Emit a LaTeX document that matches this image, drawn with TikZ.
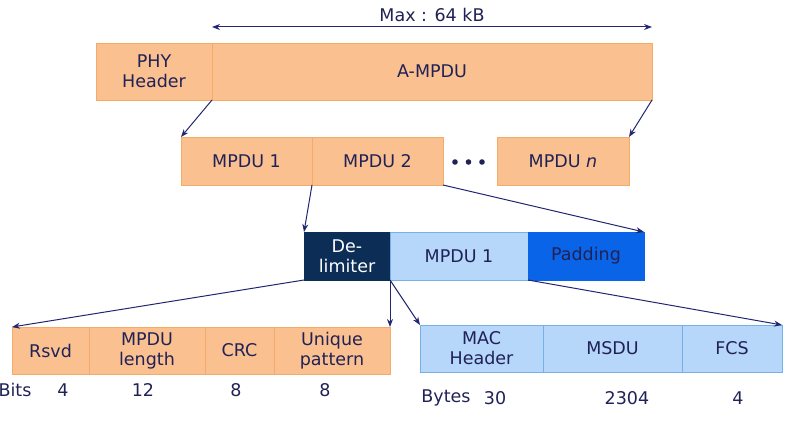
\documentclass[tikz,border=0pt]{standalone}
\usepackage{fontspec}
\setmainfont{DejaVu Sans}
\usetikzlibrary{positioning,arrows.meta}
\definecolor{orfill}{RGB}{250,192,144}
\definecolor{ordraw}{RGB}{242,172,104}
\definecolor{bluefill}{RGB}{182,214,250}
\definecolor{bluedraw}{RGB}{118,176,234}
\definecolor{delimfill}{RGB}{12,45,86}
\definecolor{padfill}{RGB}{10,100,232}
\definecolor{txt}{RGB}{32,34,86}
\definecolor{arrowcol}{RGB}{34,38,112}
\tikzset{
  field/.style={rectangle,outer sep=0pt,inner sep=0pt,align=center,text=txt,
    font=\fontsize{17.5}{20}\selectfont},
  orbox/.style={field,draw=ordraw,fill=orfill},
  bluebox/.style={field,draw=bluedraw,fill=bluefill},
  size/.style={text=txt,font=\fontsize{17.5}{20}\selectfont},
  link/.style={->,arrowcol,line width=1pt}
}
\begin{document}
\begin{tikzpicture}[x=1pt,y=-1pt,>={Stealth[length=8pt,width=6pt]}]
\useasboundingbox (0,0) rectangle (787,422);

% PHY frame
\node[orbox,minimum width=116pt,minimum height=57pt,anchor=north west] (phy) at (96,43) {PHY\\Header};
\node[orbox,minimum width=440pt,minimum height=57pt,right=0pt of phy] (ampdu) {A-MPDU};
\coordinate (maxl) at ([yshift=16pt]ampdu.north west);
\coordinate (maxr) at ([yshift=16pt]ampdu.north east);
\draw[link,<->] (maxl) -- (maxr) node[midway,above=1pt,size] (maxlbl) {Max : 64 kB};

% MPDUs
\node[orbox,minimum width=131pt,minimum height=48pt,anchor=north west] (mpdua) at (181,137) {MPDU 1};
\node[orbox,minimum width=131pt,minimum height=48pt,right=0pt of mpdua] (mpdub) {MPDU 2};
\node[orbox,minimum width=132pt,minimum height=48pt,anchor=north west] (mpdun) at (497,137) {MPDU \textit{n}};
\foreach \x in {455,468.5,482}
  \fill[txt] (\x,162) circle (2.8pt);

% A-MPDU subframe
\node[field,fill=delimfill,draw=delimfill,text=white,minimum width=86pt,minimum height=48pt,anchor=north west] (delim) at (304,232) {De-\\limiter};
\node[bluebox,minimum width=138pt,minimum height=48pt,right=0pt of delim] (inner) {MPDU 1};
\node[field,fill=padfill,draw=padfill,minimum width=116pt,minimum height=48pt,right=0pt of inner] (pad) {Padding};

% delimiter fields
\node[orbox,minimum width=77pt,minimum height=47pt,anchor=north west] (rsvd) at (12,327) {Rsvd};
\node[orbox,minimum width=116pt,minimum height=47pt,right=0pt of rsvd] (len) {MPDU\\length};
\node[orbox,minimum width=69pt,minimum height=47pt,right=0pt of len] (crc) {CRC};
\node[orbox,minimum width=116pt,minimum height=47pt,right=0pt of crc] (uniq) {Unique\\pattern};
\node[size] (bits) at (15,390) {Bits};
\node[size] (bitsa) at (63,390) {4};
\node[size] (bitsb) at (143,390) {12};
\node[size] (bitsc) at (236,390) {8};
\node[size] (bitsd) at (325,390) {8};

% MPDU fields
\node[bluebox,minimum width=123pt,minimum height=47pt,anchor=north west] (mac) at (420,325) {MAC\\Header};
\node[bluebox,minimum width=139pt,minimum height=47pt,right=0pt of mac] (msdu) {MSDU};
\node[bluebox,minimum width=100pt,minimum height=47pt,right=0pt of msdu] (fcs) {FCS};
\node[size] (bytes) at (446,398) {Bytes};
\node[size] (bytesa) at (495,398) {30};
\node[size] (bytesb) at (627,398) {2304};
\node[size] (bytesc) at (738,398) {4};

% expansion arrows
\draw[link] (ampdu.south west) -- (mpdua.north west);
\draw[link] (ampdu.south east) -- (mpdun.north east);
\draw[link] (mpdub.south west) -- (delim.north west);
\draw[link] (mpdub.south east) -- (pad.north east);
\draw[link] (delim.south west) -- (rsvd.north west);
\draw[link] (delim.south east) -- (uniq.north east);
\draw[link] (delim.south east) -- (mac.north west);
\draw[link] (inner.south east) -- (fcs.north east);
\end{tikzpicture}
\end{document}
